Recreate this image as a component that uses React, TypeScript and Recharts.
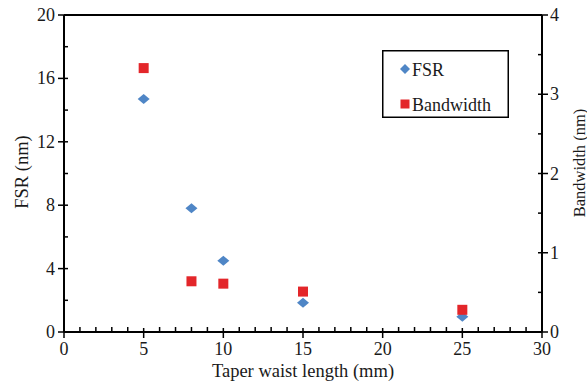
import React from 'react';
import {
  ScatterChart,
  Scatter,
  XAxis,
  YAxis,
  Legend,
  ReferenceLine,
} from 'recharts';

// taper waist length (mm)
const waistLengths = [5, 8, 10, 15, 25];
const fsrValues = [14.7, 7.8, 4.5, 1.85, 0.97];
const bandwidthValues = [3.33, 0.64, 0.61, 0.51, 0.28];

const xTicks = [0, 1, 2, 3, 4, 5, 6, 7, 8, 9, 10, 11, 12, 13, 14, 15, 16, 17, 18, 19, 20, 21, 22, 23, 24, 25, 26, 27, 28, 29, 30];
const fsrTicks = [0, 2, 4, 6, 8, 10, 12, 14, 16, 18, 20];
const bwTicks = [0, 0.5, 1, 1.5, 2, 2.5, 3, 3.5, 4];
const seriesOrder = ['FSR', 'Bandwidth'];

const fsrData = waistLengths.map((x, i) => ({ x, y: fsrValues[i] }));
const bwData = waistLengths.map((x, i) => ({ x, y: bandwidthValues[i] }));

const FONT = "'Liberation Serif', 'Times New Roman', Times, serif";
const BLUE = '#4f86c6';
const RED = '#e3262a';
const txt = { fontFamily: FONT };

const XTick = (props: any) => {
  const { x, y, payload } = props;
  const major = payload.value % 5 === 0;
  return (
    <g>
      <line x1={x} x2={x} y1={major ? y - 4 : y - 5} y2={major ? y + 6 : y} stroke="#000" strokeWidth={1.5} />
      {major && (
        <text x={x} y={y + 17} textAnchor="middle" dominantBaseline="central" style={txt} fontSize={18} fill="#1a1a1a">
          {payload.value}
        </text>
      )}
    </g>
  );
};

const LeftTick = (props: any) => {
  const { x, y, payload } = props;
  const major = payload.value % 4 === 0;
  return (
    <g>
      <line x1={major ? x - 6 : x} x2={x + 4} y1={y} y2={y} stroke="#000" strokeWidth={1.5} />
      {major && (
        <text x={x - 9} y={y} textAnchor="end" dominantBaseline="central" style={txt} fontSize={18} fill="#1a1a1a">
          {payload.value}
        </text>
      )}
    </g>
  );
};

const RightTick = (props: any) => {
  const { x, y, payload } = props;
  const major = Number.isInteger(payload.value);
  return (
    <g>
      <line x1={x - 4} x2={major ? x + 6 : x} y1={y} y2={y} stroke="#000" strokeWidth={1.5} />
      {major && (
        <text x={x + 8} y={y} textAnchor="start" dominantBaseline="central" style={txt} fontSize={18} fill="#1a1a1a">
          {payload.value}
        </text>
      )}
    </g>
  );
};

const Diamond = (props: any) => {
  const { cx, cy } = props;
  return <polygon points={`${cx - 6},${cy} ${cx},${cy - 5} ${cx + 6},${cy} ${cx},${cy + 5}`} fill={BLUE} />;
};

const Square = (props: any) => {
  const { cx, cy } = props;
  return <rect x={cx - 5} y={cy - 5} width={10} height={10} fill={RED} />;
};

const renderLegend = (props: any) => {
  const items = [...(props.payload || [])].sort(
    (a: any, b: any) => seriesOrder.indexOf(a.value) - seriesOrder.indexOf(b.value)
  );
  return (
    <svg width={127} height={68} style={{ display: 'block' }}>
      <rect x={0.75} y={0.75} width={125.5} height={66.5} fill="#fff" stroke="#000" strokeWidth={1.5} />
      {items.map((entry: any, i: number) => {
        const cy = i === 0 ? 19 : 54;
        return (
          <g key={`item-${i}`}>
            {entry.value === 'FSR' ? (
              <polygon points={`18,${cy} 23,${cy - 5} 28,${cy} 23,${cy + 5}`} fill={BLUE} />
            ) : (
              <rect x={18.5} y={cy - 4.5} width={9} height={9} fill={RED} />
            )}
            <text x={30} y={cy + 1} dominantBaseline="central" style={txt} fontSize={18} fill="#1a1a1a">
              {entry.value}
            </text>
          </g>
        );
      })}
    </svg>
  );
};

const App: React.FC = () => {
  return (
    <div style={{ position: 'absolute', left: 0, top: 0, width: 587, height: 383, background: '#fff', fontFamily: FONT }}>
      <ScatterChart width={587} height={383} margin={{ top: 15, right: 0, left: 0, bottom: 0 }}>
        <XAxis
          type="number"
          dataKey="x"
          domain={[0, 30]}
          ticks={xTicks}
          interval={0}
          tickSize={0}
          tickMargin={0}
          tickLine={false}
          tick={<XTick />}
          height={51}
          axisLine={{ stroke: '#000', strokeWidth: 2 }}
          label={{
            content: (p: any) => (
              <text
                x={p.viewBox.x + p.viewBox.width / 2}
                y={371}
                textAnchor="middle"
                dominantBaseline="central"
                style={txt}
                fontSize={18.5}
                fill="#1a1a1a"
              >
                Taper waist length (mm)
              </text>
            ),
          }}
        />
        <YAxis
          yAxisId="left"
          type="number"
          dataKey="y"
          domain={[0, 20]}
          ticks={fsrTicks}
          interval={0}
          tickSize={0}
          tickMargin={0}
          tickLine={false}
          tick={<LeftTick />}
          width={64}
          axisLine={{ stroke: '#000', strokeWidth: 2 }}
          label={{
            content: () => (
              <text
                x={22}
                y={172}
                transform={`rotate(-90, 22, 172)`}
                textAnchor="middle"
                dominantBaseline="central"
                style={txt}
                fontSize={18.5}
                fill="#1a1a1a"
              >
                FSR (nm)
              </text>
            ),
          }}
        />
        <YAxis
          yAxisId="right"
          orientation="right"
          type="number"
          dataKey="y"
          domain={[0, 4]}
          ticks={bwTicks}
          interval={0}
          tickSize={0}
          tickMargin={0}
          tickLine={false}
          tick={<RightTick />}
          width={45}
          axisLine={{ stroke: '#000', strokeWidth: 2 }}
          label={{
            content: () => (
              <text
                x={579}
                y={163}
                transform={`rotate(-90, 579, 163)`}
                textAnchor="middle"
                dominantBaseline="central"
                style={txt}
                fontSize={16.5}
                fill="#1a1a1a"
              >
                Bandwidth (nm)
              </text>
            ),
          }}
        />
        <ReferenceLine yAxisId="left" y={20} stroke="#000" strokeWidth={2} />
        <Legend
          layout="vertical"
          align="center"
          verticalAlign="middle"
          content={renderLegend}
          wrapperStyle={{ position: 'absolute', left: 382, top: 50, width: 127, height: 68 }}
        />
        <Scatter name="FSR" data={fsrData} yAxisId="left" fill={BLUE} shape={<Diamond />} isAnimationActive={false} />
        <Scatter name="Bandwidth" data={bwData} yAxisId="right" fill={RED} shape={<Square />} isAnimationActive={false} />
      </ScatterChart>
    </div>
  );
};

export default App;
